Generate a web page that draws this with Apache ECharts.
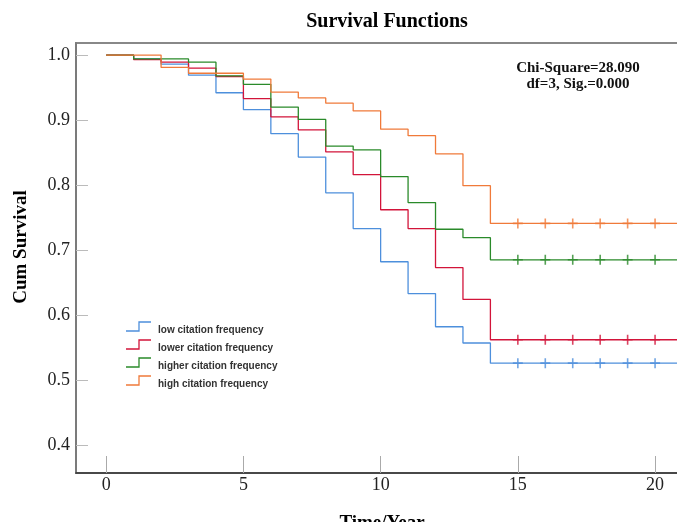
<!DOCTYPE html>
<html>
<head>
<meta charset="utf-8">
<script src="https://cdn.jsdelivr.net/npm/echarts@6/dist/echarts.min.js"></script>
<style>
  html, body { margin: 0; padding: 0; background: #fff; }
  #chart { width: 677px; height: 522px; }
</style>
</head>
<body>
<div id="chart"></div>
<script>
// group names and colours
const groups = ['low citation frequency', 'lower citation frequency', 'higher citation frequency', 'high citation frequency'];
const colors = ['#4d8fdc', '#d2143a', '#2a8a2a', '#f07a3a'];

// event times (years) and cumulative survival
const years = [0, 1, 2, 3, 4, 5, 6, 7, 8, 9, 10, 11, 12, 13, 14];
const lowSurv    = [1.0, 0.994, 0.986, 0.969, 0.942, 0.916, 0.879, 0.843, 0.788, 0.733, 0.682, 0.633, 0.582, 0.557, 0.526];
const lowerSurv  = [1.0, 0.993, 0.989, 0.980, 0.967, 0.933, 0.905, 0.885, 0.851, 0.816, 0.762, 0.733, 0.673, 0.624, 0.562];
const higherSurv = [1.0, 0.994, 0.994, 0.989, 0.968, 0.955, 0.920, 0.901, 0.860, 0.854, 0.813, 0.773, 0.732, 0.719, 0.685];
const highSurv   = [1.0, 1.0, 0.981, 0.972, 0.972, 0.963, 0.943, 0.934, 0.926, 0.914, 0.886, 0.876, 0.848, 0.799, 0.741];

// censored marks
const censorYears = [15, 16, 17, 18, 19, 20];

// axis ticks
const xTicks = [0, 5, 10, 15, 20];
const yTicks = [0.4, 0.5, 0.6, 0.7, 0.8, 0.9, 1.0];

const xEnd = 21.2;
const survs = [lowSurv, lowerSurv, higherSurv, highSurv];

var myChart = echarts.init(document.getElementById('chart'), null, {renderer: 'canvas'});

const lineSeries = survs.map(function (s, i) {
    const data = years.map(function (t, k) { return [t, s[k]]; });
    data.push([xEnd, s[s.length - 1]]);
    return {
        name: groups[i],
        type: 'line',
        step: 'end',
        showSymbol: false,
        data: data,
        lineStyle: {color: colors[i], width: 1.3},
        silent: true,
        z: 2 + i
    };
});

const plusPath = 'path://M4.2,0 H5.8 V4.2 H10 V5.8 H5.8 V10 H4.2 V5.8 H0 V4.2 H4.2 Z';
const censorSeries = survs.map(function (s, i) {
    return {
        name: groups[i] + ' censored',
        type: 'scatter',
        symbol: plusPath,
        symbolSize: 10,
        itemStyle: {color: colors[i]},
        data: censorYears.map(function (t) { return [t, s[s.length - 1]]; }),
        silent: true,
        z: 6
    };
});

// legend drawn by hand: little step icon plus label
const legendItems = [];
groups.forEach(function (g, i) {
    const y0 = 331 + i * 18;
    legendItems.push({
        type: 'polyline',
        shape: {points: [[126, y0], [139, y0], [139, y0 - 9], [151, y0 - 9]]},
        style: {stroke: colors[i], lineWidth: 1.3, fill: null}
    });
    legendItems.push({
        type: 'text',
        x: 158,
        y: y0 - 1,
        style: {
            text: g,
            fill: '#333',
            font: 'bold 10px "Liberation Sans", Arial, sans-serif',
            textVerticalAlign: 'middle'
        }
    });
});

myChart.setOption({
    animation: false,
    title: {
        text: 'Survival Functions',
        left: 382,
        top: 7,
        textAlign: 'center',
        textStyle: {
            fontFamily: 'Liberation Serif',
            fontWeight: 'bold',
            fontSize: 20,
            color: '#000'
        }
    },
    grid: {
        left: 76,
        top: 43,
        width: 612,
        height: 430,
        outerBoundsMode: 'none',
        containLabel: false,
        show: true,
        borderColor: '#888',
        borderWidth: 2
    },
    xAxis: {
        type: 'value',
        min: -1.1,
        max: xEnd,
        name: 'Time/Year',
        nameLocation: 'middle',
        nameGap: 41,
        nameTextStyle: {
            fontFamily: 'Liberation Serif',
            fontWeight: 'bold',
            fontSize: 19,
            color: '#000'
        },
        splitLine: {show: false},
        axisLine: {show: true, onZero: false, lineStyle: {color: '#333', width: 1.5}},
        axisTick: {
            show: true,
            inside: true,
            length: 17,
            customValues: xTicks,
            lineStyle: {color: '#aaa'}
        },
        axisLabel: {
            customValues: xTicks,
            margin: 3,
            fontFamily: 'Liberation Serif',
            fontSize: 18,
            color: '#222'
        }
    },
    yAxis: {
        type: 'value',
        min: 0.357,
        max: 1.0185,
        name: 'Cum Survival',
        nameLocation: 'middle',
        nameGap: 45,
        nameTextStyle: {
            fontFamily: 'Liberation Serif',
            fontWeight: 'bold',
            fontSize: 19,
            color: '#000',
            padding: [0, 0, 0, 22]
        },
        splitLine: {show: false},
        axisLine: {show: true, onZero: false, lineStyle: {color: '#777', width: 1.5}},
        axisTick: {
            show: true,
            inside: true,
            length: 12,
            customValues: yTicks,
            lineStyle: {color: '#bbb'}
        },
        axisLabel: {
            customValues: yTicks,
            margin: 6,
            fontFamily: 'Liberation Serif',
            fontSize: 18,
            color: '#222',
            formatter: function (v) { return v.toFixed(1); }
        }
    },
    graphic: [
        {
            type: 'text',
            x: 578,
            y: 60,
            style: {
                text: 'Chi-Square=28.090\ndf=3, Sig.=0.000',
                fill: '#111',
                font: 'bold 15px "Liberation Serif", serif',
                textAlign: 'center',
                lineHeight: 16
            }
        }
    ].concat(legendItems),
    series: lineSeries.concat(censorSeries)
});
</script>
</body>
</html>
